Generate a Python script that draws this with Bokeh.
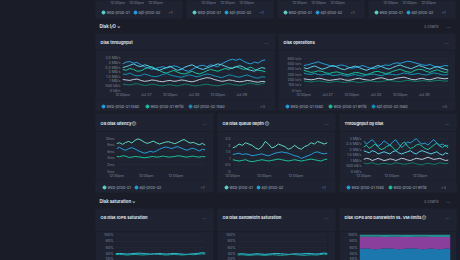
import numpy as np
from bokeh.plotting import figure
from bokeh.layouts import column, row
from bokeh.models import Spacer, Range1d, FixedTicker, ColumnDataSource
from bokeh.core.properties import value
from bokeh.embed import file_html
from bokeh.resources import INLINE

# ---------------- palette / fonts ----------------
BG = "#1a1d28"
PANEL = "#1f2331"
GRID = "#252a37"
TITLE_C = "#dfe3ea"
MUTED = "#7d8597"
LEG_C = "#9ea6b5"
FONT = "Inter"

BLUE = "#249fdc"
CYAN = "#5ccfe6"
GREEN = "#1bc29a"
TEAL = "#1592b8"
GREY = "#bccadb"
DKGREEN = "#137c69"
LTEAL = "#5fd6c4"
PURPLE = "#8b3f9c"
STACK_BLUE = "#1b77ad"
STACK_TEAL = "#238d8f"

# ---------------- data ----------------
# time axis, hours since Jul 26 12:00pm
XC = np.linspace(0, 72, 40)
XD = np.linspace(0, 72, 30)
XF = np.linspace(0, 72, 24)

C_TICKS = [0, 12, 24, 36, 48, 60]
C_TICK_LABELS = ["12:00pm", "Jul 27", "12:00pm", "Jul 28", "12:00pm", "Jul 29"]
D_TICKS = [0, 24, 48]
D_TICK_LABELS = ["12:00pm", "12:00pm", "12:00pm"]

# Disk throughput (MB/s)
TP_NAMES = ["web-prod-01 read", "web-prod-01 write", "api-prod-02 read",
            "api-prod-02 write", "db-prod-03 read", "db-prod-03 write"]
TP_COLORS = [BLUE, GREEN, TEAL, CYAN, GREY, DKGREEN]
TP_WEB01_READ = [2.9, 3.1, 3.15, 3.0, 3.05, 2.8, 2.6, 2.45, 2.3, 2.4, 2.5, 2.6, 2.45, 2.55, 2.7, 2.6, 2.4, 2.2, 2.1, 2.3,
                 2.5, 2.7, 2.75, 2.6, 2.8, 2.7, 2.6, 2.9, 3.1, 3.3, 3.4, 3.3, 3.45, 3.2, 3.0, 2.9, 3.1, 3.0, 3.25, 3.35]
TP_WEB01_WRITE = [2.3, 2.2, 2.4, 2.3, 2.1, 2.15, 2.35, 2.5, 2.6, 2.4, 2.2, 2.0, 1.9, 2.05, 2.2, 2.0, 1.85, 1.8, 1.95, 2.1,
                  1.9, 1.8, 1.95, 2.15, 2.3, 2.2, 2.1, 2.25, 2.4, 2.3, 2.5, 2.6, 2.45, 2.3, 2.4, 2.55, 2.3, 2.2, 2.15, 2.05]
TP_API02_READ = [1.8, 1.75, 1.9, 1.7, 1.6, 1.65, 1.8, 1.7, 1.55, 1.5, 1.6, 1.75, 1.85, 1.7, 1.6, 1.5, 1.45, 1.55, 1.7, 1.65,
                 1.5, 1.55, 1.7, 1.8, 1.75, 1.6, 1.5, 1.4, 1.55, 1.7, 1.65, 1.5, 1.45, 1.6, 1.7, 1.55, 1.4, 1.35, 1.5, 1.45]
TP_API02_WRITE = [2.5, 2.6, 2.75, 2.9, 2.7, 2.6, 2.8, 2.7, 2.5, 2.3, 2.2, 2.35, 2.5, 2.65, 2.4, 2.2, 2.3, 2.55, 2.7, 2.8,
                  2.6, 2.4, 2.3, 2.45, 2.6, 2.75, 2.9, 2.8, 2.65, 2.5, 2.4, 2.6, 2.7, 2.55, 2.3, 2.2, 2.1, 2.35, 2.5, 2.4]
TP_DB03_READ = [1.2, 1.15, 1.1, 1.2, 1.25, 1.1, 1.0, 1.05, 1.15, 1.1, 1.0, 0.95, 1.05, 1.1, 1.0, 1.05, 1.15, 1.1, 1.0, 0.95,
                1.05, 1.2, 1.3, 1.4, 1.35, 1.2, 1.1, 1.0, 1.05, 1.15, 1.1, 1.0, 0.95, 1.0, 1.1, 1.05, 0.95, 0.9, 1.0, 0.95]
TP_DB03_WRITE = [0.7, 0.65, 0.6, 0.7, 0.75, 0.65, 0.55, 0.6, 0.7, 0.65, 0.55, 0.5, 0.6, 0.65, 0.55, 0.5, 0.6, 0.7, 0.65, 0.55,
                 0.5, 0.55, 0.65, 0.7, 0.6, 0.55, 0.5, 0.6, 0.7, 0.75, 0.65, 0.6, 0.55, 0.65, 0.75, 0.8, 0.7, 0.65, 0.75, 0.85]
TP_SERIES = [TP_WEB01_READ, TP_WEB01_WRITE, TP_API02_READ, TP_API02_WRITE, TP_DB03_READ, TP_DB03_WRITE]
TP_YTICKS = [0, 0.5, 1, 1.5, 2, 2.5, 3, 3.5]
TP_YLABELS = ["0 kB/s", "500 kB/s", "1 MB/s", "1.5 MB/s", "2 MB/s", "2.5 MB/s", "3 MB/s", "3.5 MB/s"]

# Disk operations (io/s)
OPS_NAMES = TP_NAMES
OPS_COLORS = [BLUE, GREEN, TEAL, CYAN, GREY, DKGREEN]
OPS_WEB01_READ = [470, 480, 500, 520, 540, 510, 490, 470, 450, 460, 480, 470, 440, 420, 430, 450, 470, 440, 420, 410,
                  430, 460, 480, 470, 500, 520, 510, 530, 550, 540, 520, 500, 480, 470, 490, 460, 440, 450, 470, 460]
OPS_WEB01_WRITE = [380, 360, 340, 350, 370, 360, 330, 320, 340, 350, 330, 310, 300, 320, 340, 330, 310, 300, 320, 350,
                   360, 340, 320, 330, 360, 380, 400, 370, 350, 340, 380, 400, 390, 360, 340, 370, 390, 360, 340, 350]
OPS_API02_READ = [330, 310, 300, 320, 300, 290, 310, 300, 280, 290, 300, 280, 270, 290, 300, 280, 270, 290, 300, 310,
                  290, 280, 300, 310, 300, 290, 310, 330, 320, 300, 310, 320, 300, 290, 310, 330, 320, 300, 290, 310]
OPS_API02_WRITE = [430, 410, 440, 460, 430, 400, 420, 450, 470, 440, 410, 390, 420, 440, 460, 430, 400, 380, 410, 440,
                   470, 450, 420, 400, 430, 460, 480, 450, 430, 410, 440, 470, 450, 420, 400, 430, 450, 420, 400, 380]
OPS_DB03_READ = [220, 210, 200, 210, 230, 220, 200, 190, 200, 210, 220, 200, 190, 200, 220, 230, 210, 200, 190, 210,
                 230, 240, 220, 200, 210, 230, 240, 250, 230, 210, 200, 220, 230, 210, 200, 220, 240, 230, 220, 230]
OPS_DB03_WRITE = [180, 170, 160, 170, 180, 170, 160, 150, 165, 175, 160, 150, 160, 170, 160, 150, 160, 175, 180, 170,
                  160, 170, 180, 190, 180, 170, 165, 180, 190, 180, 170, 175, 185, 180, 170, 180, 190, 185, 175, 180]
OPS_SERIES = [OPS_WEB01_READ, OPS_WEB01_WRITE, OPS_API02_READ, OPS_API02_WRITE, OPS_DB03_READ, OPS_DB03_WRITE]
OPS_YTICKS = [0, 100, 200, 300, 400, 500, 600]
OPS_YLABELS = ["0 io/s", "100 io/s", "200 io/s", "300 io/s", "400 io/s", "500 io/s", "600 io/s"]

# OS disk latency (ms)
LAT_NAMES = ["web-prod-01", "api-prod-02", "db-prod-03"]
LAT_COLORS = [LTEAL, BLUE, GREEN]
LAT_WEB01 = [8.5, 8.8, 8.3, 8.9, 9.2, 8.7, 9.5, 10.0, 9.6, 9.0, 8.6, 8.9, 9.3, 8.8, 8.4,
             8.7, 9.0, 9.1, 8.8, 8.5, 8.9, 9.4, 9.8, 9.2, 8.7, 8.9, 8.5, 8.2, 8.6, 8.0]
LAT_API02 = [7.0, 7.4, 6.8, 6.5, 7.0, 7.3, 6.9, 6.4, 6.0, 5.6, 5.8, 6.2, 5.9, 6.3, 6.8,
             7.2, 7.5, 7.3, 7.0, 7.4, 7.6, 7.2, 6.8, 6.5, 6.9, 7.1, 6.7, 6.3, 6.8, 6.6]
LAT_DB03 = [4.6, 4.5, 4.8, 4.7, 4.3, 4.4, 4.6, 4.5, 4.4, 4.2, 4.3, 4.5, 4.6, 4.4, 4.5,
            4.7, 4.6, 4.4, 4.5, 4.6, 4.8, 4.7, 4.5, 4.4, 4.6, 4.7, 4.5, 4.4, 4.6, 4.5]
LAT_SERIES = [LAT_WEB01, LAT_API02, LAT_DB03]
LAT_YTICKS = [0, 2, 4, 6, 8, 10]
LAT_YLABELS = ["0ms", "2ms", "4ms", "6ms", "8ms", "10ms"]

# OS disk queue depth
QD_NAMES = LAT_NAMES
QD_COLORS = [LTEAL, BLUE, GREEN]
QD_WEB01 = [1.8, 1.9, 2.1, 2.0, 2.2, 2.1, 2.0, 1.8, 1.7, 1.9, 2.3, 2.1, 1.8, 1.9, 2.1,
            2.0, 1.9, 1.7, 1.8, 2.0, 1.8, 1.7, 1.9, 2.0, 2.2, 2.1, 2.3, 2.2, 2.1, 2.2]
QD_API02 = [1.3, 1.35, 1.4, 1.3, 1.35, 1.3, 1.2, 1.25, 1.3, 1.35, 1.25, 1.2, 1.3, 1.4, 1.45,
            1.5, 1.45, 1.4, 1.3, 1.2, 1.15, 1.0, 1.1, 1.2, 1.3, 1.45, 1.5, 1.4, 1.35, 1.4]
QD_DB03 = [0.9, 0.85, 0.8, 0.85, 0.9, 0.8, 0.75, 0.8, 0.85, 0.9, 0.85, 0.8, 0.85, 0.9, 0.95,
           0.9, 0.85, 0.8, 0.85, 0.9, 0.85, 0.8, 0.85, 0.9, 0.95, 0.9, 0.85, 0.8, 0.9, 0.95]
QD_SERIES = [QD_WEB01, QD_API02, QD_DB03]
QD_YTICKS = [0, 0.5, 1, 1.5, 2, 2.5]
QD_YLABELS = ["0", "0.5", "1", "1.5", "2", "2.5"]

# Throughput by disk (MB/s)
TD_NAMES = ["web-prod-01 read", "web-prod-01 write", "api-prod-02 read", "api-prod-02 write", "db-prod-03 read"]
TD_COLORS = [BLUE, GREEN, CYAN, GREY, DKGREEN]
TD_S1 = [2.8, 2.5, 2.7, 2.9, 2.6, 2.3, 2.5, 2.8, 2.6, 2.4, 2.7, 2.9, 2.5, 2.2, 2.4,
         2.7, 2.6, 2.8, 3.0, 2.7, 2.5, 2.6, 2.4, 2.7, 2.9, 2.6, 2.4, 2.5, 2.3, 2.4]
TD_S2 = [2.2, 2.4, 2.1, 2.3, 2.5, 2.2, 2.0, 2.1, 2.3, 2.4, 2.2, 1.9, 2.1, 2.5, 2.7,
         2.3, 2.1, 2.2, 2.4, 2.5, 2.3, 2.1, 2.0, 2.2, 2.4, 2.6, 2.3, 2.2, 2.4, 2.1]
TD_S3 = [1.9, 1.8, 1.7, 1.9, 1.8, 1.6, 1.7, 1.8, 1.7, 1.6, 1.8, 1.9, 1.7, 1.6, 1.7,
         1.8, 1.9, 1.7, 1.6, 1.8, 1.9, 1.8, 1.7, 1.6, 1.7, 1.8, 1.6, 1.5, 1.7, 1.6]
TD_S4 = [1.1, 1.2, 1.15, 1.0, 1.1, 1.2, 1.1, 1.0, 1.05, 1.15, 1.1, 1.0, 1.1, 1.2, 1.15,
         1.05, 1.0, 1.1, 1.2, 1.15, 1.1, 1.2, 1.3, 1.2, 1.1, 1.15, 1.2, 1.1, 1.0, 1.05]
TD_S5 = [0.8, 0.7, 0.75, 0.8, 0.7, 0.65, 0.7, 0.75, 0.7, 0.65, 0.7, 0.8, 0.75, 0.7, 0.65,
         0.7, 0.75, 0.8, 0.7, 0.65, 0.6, 0.7, 0.75, 0.7, 0.65, 0.7, 0.8, 0.75, 0.7, 0.75]
TD_SERIES = [TD_S1, TD_S2, TD_S3, TD_S4, TD_S5]
TD_YTICKS = [0, 0.5, 1, 1.5, 2, 2.5, 3]
TD_YLABELS = ["0 kB/s", "500 kB/s", "1 MB/s", "1.5 MB/s", "2 MB/s", "2.5 MB/s", "3 MB/s"]

# Saturation (%)
SAT_YTICKS = [20, 40, 60, 80, 100]
SAT_YLABELS = ["20%", "40%", "60%", "80%", "100%"]
SAT_COLORS = ["#35bfe0", "#1aa39b"]
IOPS_WEB01 = [41, 42, 41, 40, 41, 42, 43, 42, 41, 40, 41, 42, 41, 40, 41, 42, 41, 40, 39, 40, 41, 42, 44, 43]
IOPS_API02 = [38, 39, 38, 37, 38, 39, 38, 37, 38, 39, 40, 39, 38, 37, 38, 39, 38, 37, 38, 39, 38, 39, 41, 40]
BW_WEB01 = [40, 41, 40, 39, 40, 41, 40, 39, 40, 41, 42, 41, 40, 39, 40, 41, 40, 41, 42, 41, 40, 41, 43, 42]
BW_API02 = [37, 38, 37, 36, 37, 38, 37, 36, 37, 38, 37, 36, 37, 38, 39, 38, 37, 36, 37, 38, 37, 38, 40, 39]
VM_IOPS = [56, 57, 58, 56, 55, 56, 57, 58, 57, 56, 55, 56, 57, 58, 57, 56, 55, 56, 57, 56, 55, 56, 57, 56]
VM_BW = [38, 37, 36, 38, 39, 38, 36, 35, 37, 38, 39, 37, 36, 35, 37, 38, 39, 38, 36, 37, 38, 37, 36, 38]
VM_HEADROOM = [6, 6, 6, 6, 6, 6, 7, 7, 6, 6, 6, 7, 7, 7, 6, 6, 6, 6, 7, 7, 7, 7, 7, 6]

# previous section (cropped at top)
TOP_TICK_LABELS = ["12:00pm", "12:00pm", "12:00pm"]
TOP_LEGEND = ["web-prod-01", "api-prod-02"]
TOP_LEGEND_COLORS = [LTEAL, BLUE]

# texts of the dashboard
SECTION_TITLES = ["Disk I/O ⌄", "Disk saturation ⌄"]
SECTION_COUNT = "3 charts"
C_TITLES = ["Disk throughput", "Disk operations"]
D_TITLES = ["OS disk latency ⓘ", "OS disk queue depth ⓘ", "Throughput by disk"]
F_TITLES = ["OS disk IOPS saturation", "OS disk bandwidth saturation", "Disk IOPS and bandwidth vs. VM limits ⓘ"]

# ---------------- layout geometry (page pixels) ----------------
TOP_PANELS = [(95, 182), (186, 273), (277, 364), (368, 455)]
C_PANELS = [(95, 275), (278, 455)]
D_PANELS = [(95, 213), (217, 335), (339, 456)]
C_Y = (33, 110)
D_Y = (113, 192)
F_Y0 = 208


def canvas(y0, y1):
    p = figure(width=460, height=y1 - y0, x_range=Range1d(0, 460), y_range=Range1d(y1, y0),
               output_backend="svg", toolbar_location=None, min_border=0,
               x_axis_location=None, y_axis_location=None,
               background_fill_color=BG, border_fill_color=BG, outline_line_color=None)
    p.grid.visible = False
    return p


def ctext(p, xs, ys, texts, size="3.8px", color=MUTED, bold=False, align="left"):
    p.text(xs, ys, texts, text_font=value(FONT), text_font_size=size, text_color=color,
           text_font_style="bold" if bold else "normal", text_align=align, text_baseline="middle")


def panel_tops(p, panels, y_top, y_bottom, titles, ty):
    p.quad(left=[a for a, b in panels], right=[b for a, b in panels], top=y_top, bottom=y_bottom,
           fill_color=PANEL, line_color=None)
    ctext(p, [a + 5 for a, b in panels], [ty] * len(panels), titles, size="4.1px", color=TITLE_C, bold=True)
    ctext(p, [b - 9 for a, b in panels], [ty] * len(panels), ["···"] * len(panels), size="5px", align="center")


def legend_row(p, x0, y, names, colors, dot_offsets, more, more_offset):
    xs = [x0 + o for o in dot_offsets[:len(names)]]
    p.scatter(xs, [y] * len(xs), size=3.0, color=colors[:len(names)])
    ctext(p, [x + 3 for x in xs], [y] * len(xs), names, color=LEG_C)
    ctext(p, [x0 + more_offset], [y], [more], color=MUTED, align="center")


def section_header(p, y, title):
    ctext(p, [99], [y], [title], size="4.3px", color=TITLE_C, bold=True)
    ctext(p, [438], [y], [SECTION_COUNT], align="right")
    ctext(p, [448], [y], ["···"], size="5px", align="center")


def make_chart(w, h, yr, bl, br, bt, bb, yticks, ylabels, xticks=None, xlabels=None):
    p = figure(width=w, height=h, x_range=Range1d(0, 72), y_range=Range1d(*yr),
               output_backend="svg", toolbar_location=None,
               min_border_left=bl, min_border_right=br, min_border_top=bt, min_border_bottom=bb,
               background_fill_color=PANEL, border_fill_color=PANEL, outline_line_color=None)
    p.xgrid.visible = False
    p.ygrid.grid_line_color = GRID
    p.ygrid.grid_line_width = 0.6
    p.yaxis.ticker = FixedTicker(ticks=yticks)
    p.yaxis.major_label_overrides = dict(zip(yticks, ylabels))
    if xticks is None:
        p.xaxis.visible = False
    else:
        p.xaxis.ticker = FixedTicker(ticks=xticks)
        p.xaxis.major_label_overrides = dict(zip(xticks, xlabels))
    for ax in (p.xaxis[0], p.yaxis[0]):
        ax.axis_line_color = None
        ax.major_tick_line_color = None
        ax.minor_tick_line_color = None
        ax.major_tick_out = 0
        ax.major_tick_in = 0
        ax.minor_tick_out = 0
        ax.minor_tick_in = 0
        ax.major_label_text_font_size = "3.6px"
        ax.major_label_text_color = MUTED
        ax.major_label_text_font = FONT
        ax.major_label_standoff = 2
    return p


def lines(p, x, series, colors):
    for s, c in zip(series, colors):
        p.line(x, s, line_color=c, line_width=1)


# ---------------- strip 1: previous section bottom, Disk I/O header, C titles ----------------
s1 = canvas(0, 50)
s1.quad(left=[a for a, b in TOP_PANELS], right=[b for a, b in TOP_PANELS], top=-4, bottom=18,
        fill_color=PANEL, line_color=None)
for a, b in TOP_PANELS:
    ctext(s1, [a + 22, a + 41, a + 60], [2, 2, 2], TOP_TICK_LABELS, size="3.6px", align="center")
    legend_row(s1, a, 12, TOP_LEGEND, TOP_LEGEND_COLORS, [8, 40], "+1", 75)
section_header(s1, 26, SECTION_TITLES[0])
panel_tops(s1, C_PANELS, C_Y[0], 60, C_TITLES, 42)

# ---------------- row C charts (page y 50..99) ----------------
c1 = make_chart(180, 49, (0, 3.6), 27, 10, 7, 8, TP_YTICKS, TP_YLABELS, C_TICKS, C_TICK_LABELS)
lines(c1, XC, TP_SERIES, TP_COLORS)
c2 = make_chart(177, 49, (0, 620), 25, 7, 7, 8, OPS_YTICKS, OPS_YLABELS, C_TICKS, C_TICK_LABELS)
lines(c2, XC, OPS_SERIES, OPS_COLORS)
rowC = row(Spacer(width=95, height=49), c1, Spacer(width=3, height=49), c2, Spacer(width=5, height=49))

# ---------------- strip 2: C legends, D titles ----------------
s2 = canvas(99, 131)
s2.quad(left=[a for a, b in C_PANELS], right=[b for a, b in C_PANELS], top=90, bottom=C_Y[1],
        fill_color=PANEL, line_color=None)
legend_row(s2, C_PANELS[0][0], 106, TP_NAMES[:3], TP_COLORS, [8, 52, 95], "+3", 167)
legend_row(s2, C_PANELS[1][0], 106, OPS_NAMES[:3], OPS_COLORS, [9, 52, 95], "+3", 166)
panel_tops(s2, D_PANELS, D_Y[0], 140, D_TITLES, 123)

# ---------------- row D charts (page y 131..180) ----------------
d1 = make_chart(118, 49, (0, 10.4), 21, 8, 6, 8, LAT_YTICKS, LAT_YLABELS, D_TICKS, D_TICK_LABELS)
lines(d1, XD, LAT_SERIES, LAT_COLORS)
d2 = make_chart(118, 49, (0, 2.6), 15, 8, 6, 8, QD_YTICKS, QD_YLABELS, D_TICKS, D_TICK_LABELS)
lines(d2, XD, QD_SERIES, QD_COLORS)
d3 = make_chart(117, 49, (0, 3.1), 24, 8, 6, 8, TD_YTICKS, TD_YLABELS, D_TICKS, D_TICK_LABELS)
lines(d3, XD, TD_SERIES, TD_COLORS)
rowD = row(Spacer(width=95, height=49), d1, Spacer(width=4, height=49), d2,
           Spacer(width=4, height=49), d3, Spacer(width=4, height=49))

# ---------------- strip 3: D legends, Disk saturation header, F titles ----------------
s3 = canvas(180, 231)
s3.quad(left=[a for a, b in D_PANELS], right=[b for a, b in D_PANELS], top=170, bottom=D_Y[1],
        fill_color=PANEL, line_color=None)
legend_row(s3, D_PANELS[0][0], 187, LAT_NAMES[:2], LAT_COLORS, [9, 41], "+1", 107)
legend_row(s3, D_PANELS[1][0], 187, QD_NAMES[:2], QD_COLORS, [9, 41], "+1", 106)
legend_row(s3, D_PANELS[2][0], 187, TD_NAMES[:2], TD_COLORS, [9, 51], "+3", 104)
section_header(s3, 201, SECTION_TITLES[1])
panel_tops(s3, D_PANELS, F_Y0, 240, F_TITLES, 217)

# ---------------- row F charts (page y 231..260) ----------------
f1 = make_chart(118, 29, (20, 104), 20, 8, 2, 0, SAT_YTICKS, SAT_YLABELS)
lines(f1, XF, [IOPS_WEB01, IOPS_API02], SAT_COLORS)
f2 = make_chart(118, 29, (20, 104), 20, 8, 2, 0, SAT_YTICKS, SAT_YLABELS)
lines(f2, XF, [BW_WEB01, BW_API02], SAT_COLORS)
f3 = make_chart(117, 29, (20, 104), 20, 6, 2, 0, SAT_YTICKS, SAT_YLABELS)
src = ColumnDataSource(dict(x=XF, iops=VM_IOPS, bw=VM_BW, head=VM_HEADROOM))
f3.varea_stack(stackers=["iops", "bw", "head"], x="x", color=[STACK_BLUE, PURPLE, STACK_TEAL], source=src)
rowF = row(Spacer(width=95, height=29), f1, Spacer(width=4, height=29), f2,
           Spacer(width=4, height=29), f3, Spacer(width=4, height=29))

root = column(s1, rowC, s2, rowD, s3, rowF, width=460, height=260,
              styles={"background-color": BG})

open("out.html", "w").write(file_html(root, INLINE))
